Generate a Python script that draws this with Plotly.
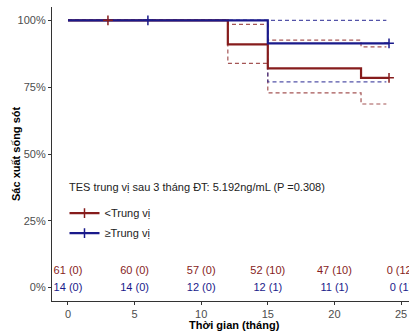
import plotly.graph_objects as go

RED = "#861C1C"
BLUE = "#1A1A8B"
RED_CI = "rgba(134,28,28,0.75)"
BLUE_CI = "rgba(26,26,139,0.75)"

# Kaplan-Meier step data (time in months, survival in %)
red_t = [0, 12, 15, 22, 24.1]
red_s = [100, 91.0, 82.0, 78.5, 78.5]
red_up = [100, 98.5, 92.6, 90.1, 90.1]
red_lo = [100, 83.9, 72.9, 68.7, 68.7]
red_ci_t = [0, 12, 15, 22, 23.9]

blue_t = [0, 15, 24.1]
blue_s = [100, 91.4, 91.4]
blue_up = [100, 100, 100]
blue_lo = [100, 77.0, 77.0]
blue_ci_t = [0, 15, 23.9]

# censor marks
red_cens_t = [3, 24.1]
red_cens_s = [100, 78.5]
blue_cens_t = [6, 24.1]
blue_cens_s = [100, 91.4]

# risk table
risk_times = [0, 5, 10, 15, 20, 25]
risk_red = ["61 (0)", "60 (0)", "57 (0)", "52 (10)", "47 (10)", "0 (12)"]
risk_blue = ["14 (0)", "14 (0)", "12 (0)", "12 (1)", "11 (1)", "0 (1)"]

y_ticks = [0, 25, 50, 75, 100]
y_tick_text = ["0%", "25%", "50%", "75%", "100%"]
x_ticks = [0, 5, 10, 15, 20, 25]

legend_title = "TES trung vị sau 3 tháng ĐT: 5.192ng/mL (P =0.308)"
FONT = "Liberation Sans, Arial, sans-serif"

fig = go.Figure()

# CI lines
for t, v, c in [(red_ci_t, red_up, RED_CI), (red_ci_t, red_lo, RED_CI),
                (blue_ci_t, blue_up, BLUE_CI), (blue_ci_t, blue_lo, BLUE_CI)]:
    fig.add_trace(go.Scatter(x=t, y=v, mode="lines", line=dict(color=c, width=1.2, dash="4px,3px", shape="hv"),
                             showlegend=False, hoverinfo="skip"))

# main lines
fig.add_trace(go.Scatter(x=red_t, y=red_s, mode="lines", line=dict(color=RED, width=2.2, shape="hv"),
                         showlegend=False))
fig.add_trace(go.Scatter(x=blue_t, y=blue_s, mode="lines", line=dict(color=BLUE, width=2.2, shape="hv"),
                         showlegend=False))
# censor marks
fig.add_trace(go.Scatter(x=red_cens_t, y=red_cens_s, mode="markers",
                         marker=dict(symbol="cross-thin", size=7, line=dict(color=RED, width=1.5)),
                         showlegend=False))
fig.add_trace(go.Scatter(x=blue_cens_t, y=blue_cens_s, mode="markers",
                         marker=dict(symbol="cross-thin", size=7, line=dict(color=BLUE, width=1.5)),
                         showlegend=False))

# legend entries
fig.add_trace(go.Scatter(x=[None], y=[None], mode="lines+markers", name="<Trung vị", legendgroup="a",
                         line=dict(color=RED, width=2.2),
                         marker=dict(symbol="cross-thin", size=7, line=dict(color=RED, width=1.5))))
fig.add_trace(go.Scatter(x=[None], y=[None], mode="lines+markers", name="≥Trung vị", legendgroup="b",
                         line=dict(color=BLUE, width=2.2),
                         marker=dict(symbol="cross-thin", size=7, line=dict(color=BLUE, width=1.5))))

# risk table
fig.add_trace(go.Scatter(x=risk_times, y=[6] * len(risk_times), mode="text", text=risk_red,
                         textfont=dict(color=RED, size=11, family=FONT), cliponaxis=False,
                         showlegend=False, hoverinfo="skip"))
fig.add_trace(go.Scatter(x=risk_times, y=[-0.3] * len(risk_times), mode="text", text=risk_blue,
                         textfont=dict(color=BLUE, size=11, family=FONT), cliponaxis=False,
                         showlegend=False, hoverinfo="skip"))

fig.add_annotation(text="<b>Thời gian (tháng)</b>", x=12.5, xref="x", y=-0.082, yref="paper",
                   showarrow=False, yanchor="middle", xanchor="center",
                   font=dict(size=11, color="black", family=FONT))
fig.add_annotation(text="<b>Sác xuất sống sót</b>", x=0, xref="paper", xshift=-36, y=0.5, yref="paper",
                   textangle=-90, showarrow=False, xanchor="center", yanchor="middle",
                   font=dict(size=11, color="black", family=FONT))
fig.add_annotation(text=legend_title, x=0.042, xref="paper", y=0.388, yref="paper",
                   showarrow=False, xanchor="left", yanchor="middle",
                   font=dict(size=11, color="#222", family=FONT))

fig.update_layout(
    width=409, height=331,
    margin=dict(l=52, r=0, t=7, b=30),
    paper_bgcolor="white", plot_bgcolor="white",
    font=dict(family=FONT, size=11, color="#4D4D4D"),
    legend=dict(
        x=0.035, y=0.348, xanchor="left", yanchor="top",
        bgcolor="rgba(0,0,0,0)", font=dict(size=11, color="#222", family=FONT),
        itemwidth=30, tracegroupgap=1,
    ),
    xaxis=dict(range=[-1.2, 25.6], tickvals=x_ticks, showgrid=False, zeroline=False,
               showline=True, linecolor="#333", linewidth=1.2, ticks="outside", ticklen=3,
               tickcolor="#333", tickfont=dict(size=11, color="#4D4D4D")),
    yaxis=dict(range=[-5, 105], tickvals=y_ticks, ticktext=y_tick_text, showgrid=False, zeroline=False,
               showline=True, linecolor="#333", linewidth=1.2, ticks="outside", ticklen=3,
               tickcolor="#333", tickfont=dict(size=11, color="#4D4D4D")),
)

fig.write_html("out.html")
